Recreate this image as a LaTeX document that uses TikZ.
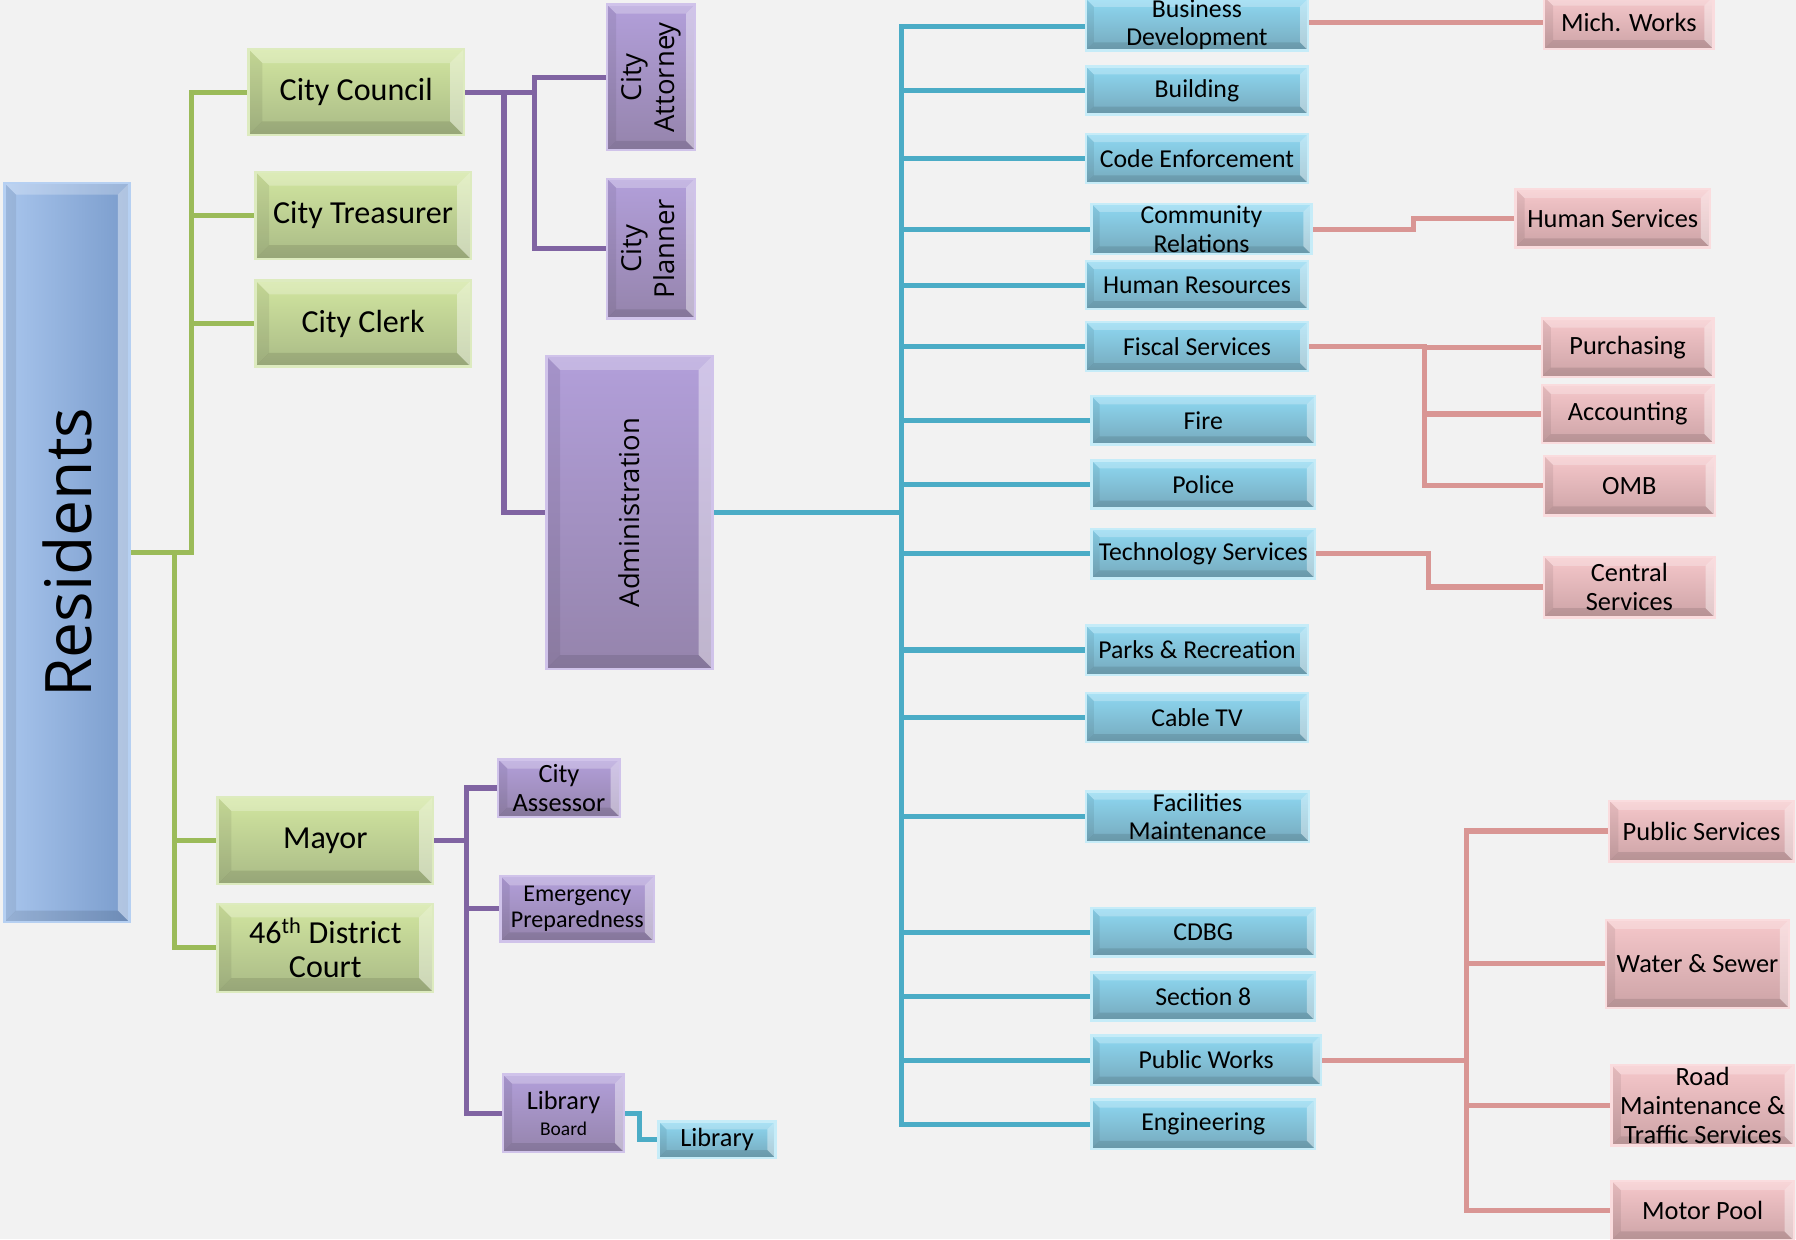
\documentclass[tikz,border=0pt]{standalone}
\usepackage{fontspec}
\setmainfont{Carlito}
\newfontfamily\vfont{Open Sans}
\usepackage{graphicx}
\pgfdeclarelayer{bg}
\pgfdeclarelayer{lines}
\pgfsetlayers{bg,lines,main}
\definecolor{bgc}{HTML}{F2F2F2}
\definecolor{gline}{HTML}{9BBB59}
\definecolor{pline}{HTML}{8064A2}
\definecolor{bline}{HTML}{4BACC6}
\definecolor{rline}{HTML}{D99694}
\definecolor{gtop}{HTML}{D2E6A0}
\definecolor{gbot}{HTML}{A9BA86}
\definecolor{gedge}{HTML}{DDEBBF}
\definecolor{btop}{HTML}{8ED8F2}
\definecolor{bbot}{HTML}{76A9BC}
\definecolor{bedge}{HTML}{C6ECF8}
\definecolor{rtop}{HTML}{F6C8CB}
\definecolor{rbot}{HTML}{CCA3A6}
\definecolor{redge}{HTML}{FADCDE}
\definecolor{ptop}{HTML}{B29FDA}
\definecolor{pbot}{HTML}{9584AC}
\definecolor{pedge}{HTML}{D0C3EA}
\definecolor{restop}{HTML}{86AADF}
\definecolor{resbot}{HTML}{7A9CCC}
\definecolor{resedge}{HTML}{B6D0F2}
\newcommand{\bevelfill}[1]{%
  \coordinate (bNW) at (path picture bounding box.north west);
  \coordinate (bNE) at (path picture bounding box.north east);
  \coordinate (bSE) at (path picture bounding box.south east);
  \coordinate (bSW) at (path picture bounding box.south west);
  \coordinate (iNW) at ([shift={(#1,-#1)}]bNW);
  \coordinate (iNE) at ([shift={(-#1,-#1)}]bNE);
  \coordinate (iSE) at ([shift={(-#1,#1)}]bSE);
  \coordinate (iSW) at ([shift={(#1,#1)}]bSW);
  \fill[white,opacity=.25] (bNW)--(bNE)--(iNE)--(iNW)--cycle;
  \fill[white,opacity=.40] (bNE)--(bSE)--(iSE)--(iNE)--cycle;
  \fill[black,opacity=.10] (bSW)--(bSE)--(iSE)--(iSW)--cycle;
  \fill[black,opacity=.07] (bNW)--(bSW)--(iSW)--(iNW)--cycle;
}
\tikzset{
  bevel/.style={path picture={\bevelfill{#1}}},
  bevel/.default=8pt,
  sz/.style 2 args={minimum width=#1pt, minimum height=#2pt},
  box/.style={rectangle, inner sep=0pt, align=center, line width=2pt, text=black},
  gbox/.style={box, top color=gtop, bottom color=gbot, draw=gedge, bevel=12pt,
    font=\fontsize{28}{30}\selectfont},
  bbox/.style={box, top color=btop, bottom color=bbot, draw=bedge, bevel=7pt,
    font=\fontsize{22.5}{25}\selectfont},
  rbox/.style={box, top color=rtop, bottom color=rbot, draw=redge, bevel=8pt,
    font=\fontsize{23}{25}\selectfont},
  pbox/.style={box, top color=ptop, bottom color=pbot, draw=pedge, bevel=8pt,
    font=\fontsize{23}{25}\selectfont},
  vbox/.style={box, top color=ptop, bottom color=pbot, draw=pedge, bevel=12pt,
    font=\vfont\fontsize{24}{29}\selectfont},
  conn/.style={line width=4.5pt},
  gl/.style={conn, draw=gline},
  pl/.style={conn, draw=pline},
  bl/.style={conn, draw=bline},
  rl/.style={conn, draw=rline},
}
\begin{document}
\begin{tikzpicture}[x=1pt,y=-1pt]
\begin{pgfonlayer}{bg}
\fill[bgc] (0,0) rectangle (1568,1082);
\end{pgfonlayer}
\useasboundingbox (0,0) rectangle (1568,1082);

% Residents
\node[box, sz={109}{645}, left color=resedge!70!restop, right color=resbot, draw=resedge, bevel=10pt,
  font=\vfont\fontsize{56}{60}\selectfont] (res) at (58.5,482.5) {\rotatebox{90}{Residents}};

% Green
\node[gbox, sz={188}{75}] (council) at (311,80.5) {City Council};
\node[gbox, sz={188}{76}] (treas) at (317,188) {City Treasurer};
\node[gbox, sz={188}{75}] (clerk) at (317,282.5) {City Clerk};
\node[gbox, sz={188}{76}] (mayor) at (284,734) {Mayor};
\node[gbox, sz={188}{77}] (court) at (284,827.5) {46\textsuperscript{th} District\\Court};

% Purple
\node[vbox, sz={77}{127}, bevel=8pt] (attorney) at (568.5,67.5)
  {\rotatebox{90}{\begin{tabular}{@{}c@{}}City\\Attorney\end{tabular}}};
\node[vbox, sz={77}{122}, bevel=8pt] (planner) at (568.5,217)
  {\rotatebox{90}{\begin{tabular}{@{}c@{}}City\\Planner\end{tabular}}};
\node[vbox, sz={145}{273}] (admin) at (549.5,447.5) {\rotatebox{90}{Administration}};
\node[pbox, sz={106}{50}] (assessor) at (488,688) {City\\Assessor};
\node[pbox, sz={134}{57}, font=\fontsize{21}{23}\selectfont] (emerg) at (504,793.5) {Emergency\\Preparedness};
\node[pbox, sz={106}{68}] (libboard) at (492,972) {Library\\[-3pt]{\fontsize{17}{18}\selectfont Board}};
\node[bbox, sz={102}{32}, font=\fontsize{23}{25}\selectfont] (library) at (626,995) {Library};

% Blue
\node[bbox, sz={194}{45}] (busdev) at (1045,21.5) {Business\\Development};
\node[bbox, sz={194}{42}] (building) at (1045,79) {Building};
\node[bbox, sz={194}{43}] (code) at (1045,138.5) {Code Enforcement};
\node[bbox, sz={192}{44}] (community) at (1049,200) {Community\\Relations};
\node[bbox, sz={194}{42}] (hr) at (1045,249) {Human Resources};
\node[bbox, sz={194}{43}] (fiscal) at (1045,302.5) {Fiscal Services};
\node[bbox, sz={195}{42}] (fire) at (1050.5,367) {Fire};
\node[bbox, sz={195}{42}] (police) at (1050.5,423) {Police};
\node[bbox, sz={195}{43}] (tech) at (1050.5,483.5) {Technology Services};
\node[bbox, sz={194}{43}] (parks) at (1045,567.5) {Parks \& Recreation};
\node[bbox, sz={194}{43}] (cable) at (1045,626.5) {Cable TV};
\node[bbox, sz={195}{44}] (facil) at (1045.5,713) {Facilities\\Maintenance};
\node[bbox, sz={195}{42}] (cdbg) at (1050.5,814) {CDBG};
\node[bbox, sz={195}{42}] (sec8) at (1050.5,870) {Section 8};
\node[bbox, sz={200}{43}] (pw) at (1053,925.5) {Public Works};
\node[bbox, sz={195}{43}] (eng) at (1050.5,981.5) {Engineering};

% Pink
\node[rbox, sz={148}{46}] (mich) at (1422,20) {Mich. Works};
\node[rbox, sz={170}{51}] (humsvc) at (1408,190.5) {Human Services};
\node[rbox, sz={150}{51}] (purch) at (1421,303.5) {Purchasing};
\node[rbox, sz={150}{51}] (acct) at (1421,361.5) {Accounting};
\node[rbox, sz={149}{52}] (omb) at (1422.5,424) {OMB};
\node[rbox, sz={149}{53}] (central) at (1422.5,512.5) {Central\\Services};
\node[rbox, sz={161}{53}] (pubsvc) at (1485.5,725.5) {Public Services};
\node[rbox, sz={160}{77}] (water) at (1482,841.5) {Water \& Sewer};
\node[rbox, sz={159}{70}] (road) at (1486.5,965) {Road\\Maintenance \&\\Traffic Services};
\node[rbox, sz={159}{52}] (motor) at (1486.5,1057) {Motor Pool};

\begin{pgfonlayer}{lines}
% green
\coordinate (g1) at (167,482.5);
\coordinate (g2) at (152,482.5);
\draw[gl] (res.east) -- (g1) |- (council.west);
\draw[gl] (g1) |- (treas.west);
\draw[gl] (g1) |- (clerk.west);
\draw[gl] (g2) |- (mayor.west);
\draw[gl] (g2) |- (court.west);
% purple
\coordinate (p1) at (467,80.5);
\coordinate (p2) at (440,80.5);
\draw[pl] (council.east) -- (p1) |- (attorney.west);
\draw[pl] (p1) |- (planner.west);
\draw[pl] (p2) |- (admin.west);
\coordinate (p3) at (407,734);
\draw[pl] (mayor.east) -- (p3) |- (assessor.west);
\draw[pl] (p3) |- (emerg.west);
\draw[pl] (p3) |- (libboard.west);
\coordinate (l1) at (558,972);
\draw[bl] (libboard.east) -- (l1) |- (library.west);
% blue
\coordinate (b1) at (787,447.5);
\draw[bl] (admin.east) -- (b1);
\draw[bl] (b1) |- ([yshift=-2pt]busdev.west);
\foreach \n in {building,code,community,hr,fiscal,fire,police,tech,parks,cable,facil,cdbg,sec8,pw,eng}
  \draw[bl] (b1) |- (\n.west);
% pink
\draw[rl] ([yshift=2pt]busdev.east) -- ([yshift=2pt]busdev.east -| mich.west);
\coordinate (r1) at (1234,200);
\draw[rl] (community.east) -- (r1) |- (humsvc.west);
\coordinate (r2) at (1244,302.5);
\draw[rl] (fiscal.east) -- (r2) |- (purch.west);
\draw[rl] (r2) |- (acct.west);
\draw[rl] (r2) |- (omb.west);
\coordinate (r3) at (1247,483.5);
\draw[rl] (tech.east) -- (r3) |- (central.west);
\coordinate (r4) at (1280,925.5);
\draw[rl] (pw.east) -- (r4) |- (pubsvc.west);
\draw[rl] (r4) |- (water.west);
\draw[rl] (r4) |- (road.west);
\draw[rl] (r4) |- (motor.west);
\end{pgfonlayer}
\end{tikzpicture}
\end{document}
